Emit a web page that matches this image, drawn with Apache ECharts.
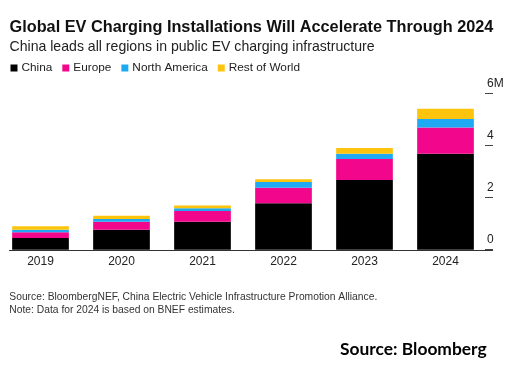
<!DOCTYPE html>
<html>
<head>
<meta charset="utf-8">
<script src="https://cdn.jsdelivr.net/npm/echarts@6/dist/echarts.min.js"></script>
<style>html,body{margin:0;padding:0;background:#fff;}#c{width:516px;height:365px;}</style>
</head>
<body>
<div id="c"></div>
<script>
const years = ['2019', '2020', '2021', '2022', '2023', '2024'];
const china = [0.45, 0.77, 1.07, 1.78, 2.67, 3.68];
const europe = [0.22, 0.30, 0.41, 0.60, 0.81, 1.01];
const northAmerica = [0.10, 0.11, 0.11, 0.22, 0.20, 0.32];
const restOfWorld = [0.13, 0.12, 0.11, 0.10, 0.22, 0.40];
const yTicks = [0, 2, 4, 6];

const FONT = '"Liberation Sans", Arial, sans-serif';
const chart = echarts.init(document.getElementById('c'), null, {renderer: 'canvas'});

function bar(name, data, color) {
  return {
    name: name, type: 'bar', stack: 'total', data: data, barWidth: '70%',
    itemStyle: {color: color}, emphasis: {disabled: true}
  };
}

chart.setOption({
  animation: false,
  backgroundColor: '#fff',
  textStyle: {fontFamily: FONT},
  title: [
    {text: 'Global EV Charging Installations Will Accelerate Through 2024', left: 9.5, top: 19.2, padding: 0,
     textStyle: {fontFamily: FONT, fontSize: 16.3, fontWeight: 'bold', color: '#111', lineHeight: 16.3}},
    {text: 'China leads all regions in public EV charging infrastructure', left: 9.5, top: 40.5, padding: 0,
     textStyle: {fontFamily: FONT, fontSize: 14.1, fontWeight: 'normal', color: '#222', lineHeight: 14}},
    {text: 'Source: BloombergNEF, China Electric Vehicle Infrastructure Promotion Alliance.\nNote: Data for 2024 is based on BNEF estimates.',
     left: 9.3, top: 291.5, padding: 0,
     textStyle: {fontFamily: FONT, fontSize: 10.3, fontWeight: 'normal', color: '#333', lineHeight: 12.3}},
    {text: 'Source: Bloomberg', left: 340, top: 340.5, padding: 0,
     textStyle: {fontFamily: 'Lato, "Open Sans", sans-serif', fontSize: 17.4, fontWeight: 'bold', color: '#000', lineHeight: 18}}
  ],
  legend: {
    left: 10.5, top: 62, padding: 0, icon: 'rect', itemWidth: 7, itemHeight: 7, itemGap: 10,
    data: ['China', 'Europe', 'North America', 'Rest of World'],
    textStyle: {fontFamily: FONT, fontSize: 11.8, color: '#222', padding: [0, 0, 0, -1]},
    selectedMode: false
  },
  grid: {left: -3, right: 30, top: 93.3, bottom: 115.3, containLabel: false},
  xAxis: {
    type: 'category', data: years,
    axisLine: {show: false}, axisTick: {show: false},
    axisLabel: {fontFamily: FONT, fontSize: 12, color: '#222', margin: 6}
  },
  yAxis: {
    type: 'value', position: 'right', offset: 7, min: 0, max: 6, interval: 2,
    splitLine: {show: false}, axisLine: {show: false},
    axisTick: {show: true, inside: true, length: 8, lineStyle: {color: '#444', width: 1}},
    axisLabel: {
      fontFamily: FONT, fontSize: 12, color: '#222', align: 'left', margin: -6,
      verticalAlign: 'bottom', lineHeight: 12, padding: [0, 0, 4, 0],
      formatter: function (v) { return yTicks.indexOf(v) >= 0 ? (v === 6 ? '6M' : String(v)) : ''; }
    }
  },
  series: [
    bar('China', china, '#000000'),
    bar('Europe', europe, '#f2078c'),
    bar('North America', northAmerica, '#1ea9f2'),
    bar('Rest of World', restOfWorld, '#fdc40d')
  ]
});

const y0 = chart.convertToPixel({yAxisIndex: 0}, 0);
chart.setOption({
  graphic: [{
    type: 'line', shape: {x1: 9, y1: Math.round(y0) + 0.5, x2: 493, y2: Math.round(y0) + 0.5},
    style: {stroke: '#333', lineWidth: 1}, z: 100
  }]
});
</script>
</body>
</html>
